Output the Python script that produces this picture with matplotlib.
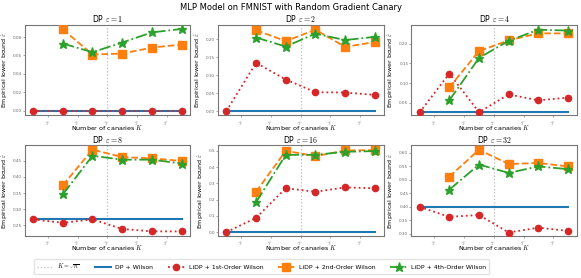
import matplotlib
matplotlib.use('Agg')
import matplotlib.pyplot as plt
from matplotlib.lines import Line2D

plt.rcParams['mathtext.fontset'] = 'cm'
plt.rcParams['font.family'] = ['DejaVu Sans']

# Datos
canaries = [1, 4, 16, 64, 256, 1024]
epsilons = [1, 2, 4, 8, 16, 32]
sqrt_n = 32

dp_wilson = [0.0, 0.0, 0.0254, 0.2685, 0.0, 0.40]

first_order = [
    [0.0, 0.0, 0.0, 0.0, 0.0, 0.0],
    [0.0, 0.1345, 0.088, 0.0525, 0.0516, 0.045],
    [0.0254, 0.124, 0.026, 0.071, 0.056, 0.063],
    [0.2685, 0.258, 0.2685, 0.239, 0.2315, 0.2315],
    [0.0, 0.088, 0.27, 0.248, 0.275, 0.27],
    [0.40, 0.363, 0.37, 0.305, 0.323, 0.311],
]
second_order = [
    [0.0883, 0.061, 0.062, 0.0685, 0.0718],
    [0.2257, 0.195, 0.227, 0.179, 0.1925],
    [0.089, 0.181, 0.208, 0.226, 0.2256],
    [0.374, 0.484, 0.461, 0.457, 0.449],
    [0.248, 0.50, 0.467, 0.502, 0.504],
    [0.512, 0.612, 0.559, 0.563, 0.550],
]
fourth_order = [
    [0.0729, 0.0635, 0.074, 0.085, 0.0887],
    [0.205, 0.18, 0.216, 0.198, 0.207],
    [0.056, 0.1636, 0.207, 0.235, 0.233],
    [0.346, 0.465, 0.453, 0.453, 0.441],
    [0.184, 0.475, 0.475, 0.494, 0.498],
    [0.464, 0.557, 0.526, 0.55, 0.540],
]

ylims = [(-0.005, 0.093), (-0.012, 0.24), (0.018, 0.247),
         (0.218, 0.497), (-0.022, 0.533), (0.293, 0.628)]
yticks = [
    [0.0, 0.02, 0.04, 0.06, 0.08],
    [0.0, 0.05, 0.10, 0.15, 0.20],
    [0.05, 0.10, 0.15, 0.20],
    [0.25, 0.30, 0.35, 0.40, 0.45],
    [0.0, 0.1, 0.2, 0.3, 0.4, 0.5],
    [0.30, 0.35, 0.40, 0.45, 0.50, 0.55, 0.60],
]
ytick_fmt = ['%.2f', '%.2f', '%.2f', '%.2f', '%.1f', '%.2f']

C_BLUE = '#1f77b4'
C_RED = '#d62728'
C_ORANGE = '#ff7f0e'
C_GREEN = '#2ca02c'

fig, axes = plt.subplots(2, 3, figsize=(5.81, 2.78), dpi=100)
fig.subplots_adjust(left=0.043, right=0.993, top=0.910, bottom=0.152,
                    wspace=0.168, hspace=0.333)

for i, ax in enumerate(axes.flat):
    ax.set_xscale('log', base=2)
    ax.axvline(sqrt_n, color='#bbbbbb', ls=':', lw=0.9, zorder=1)
    ax.plot([canaries[0], canaries[-1]], [dp_wilson[i]] * 2, color=C_BLUE, lw=1.5, zorder=2)
    ax.plot(canaries, first_order[i], color=C_RED, ls=':', lw=1.3,
            marker='o', ms=4.5, zorder=3)
    ax.plot(canaries[1:], second_order[i], color=C_ORANGE, ls='--', lw=1.3,
            marker='s', ms=5.5, zorder=4)
    ax.plot(canaries[1:], fourth_order[i], color=C_GREEN, ls='-.', lw=1.3,
            marker='*', ms=6.5, zorder=5)

    ax.set_xlim(2 ** -0.55, 2 ** 10.6)
    ax.set_ylim(*ylims[i])
    ax.set_xticks([2, 8, 32, 128, 512])
    ax.set_xticklabels(['$2^{1}$', '$2^{3}$', '$2^{5}$', '$2^{7}$', '$2^{9}$'],
                       fontsize=2.8, rotation=30, color='#666666')
    ax.minorticks_off()
    ax.set_yticks(yticks[i])
    ax.set_yticklabels([ytick_fmt[i] % v for v in yticks[i]], fontsize=3, color='#666666')
    ax.tick_params(length=1.5, width=0.4, pad=0.8, colors='#666666')
    for s in ax.spines.values():
        s.set_color('#777777')
        s.set_linewidth(0.8)

    ax.set_title(r'DP $\varepsilon = %d$' % epsilons[i], fontsize=5.6, pad=2)
    ax.set_xlabel(r'Number of canaries $K$', fontsize=4.6)
    ax.xaxis.set_label_coords(0.5, -0.085)
    ax.set_ylabel(r'Empirical lower bound $\hat{\varepsilon}$', fontsize=4.5, labelpad=2)

fig.suptitle('MLP Model on FMNIST with Random Gradient Canary', fontsize=6, y=0.99)

handles = [
    Line2D([], [], color='#bbbbbb', ls=':', lw=0.9),
    Line2D([], [], color=C_BLUE, lw=1.5),
    Line2D([], [], color=C_RED, ls=':', lw=1.3, marker='o', ms=4.5),
    Line2D([], [], color=C_ORANGE, ls='--', lw=1.3, marker='s', ms=5.5),
    Line2D([], [], color=C_GREEN, ls='-.', lw=1.3, marker='*', ms=6.5),
]
labels = [r'$K = \sqrt{n}$', 'DP + Wilson', 'LiDP + 1st-Order Wilson',
          'LiDP + 2nd-Order Wilson', 'LiDP + 4th-Order Wilson']
fig.legend(handles, labels, loc='center', ncol=5, fontsize=4.4,
           bbox_to_anchor=(0.45, 0.04), frameon=True, edgecolor='#dddddd',
           handlelength=2.7, handletextpad=0.7, columnspacing=2.4,
           borderpad=0.5)

fig.savefig('out.png', dpi=100)
